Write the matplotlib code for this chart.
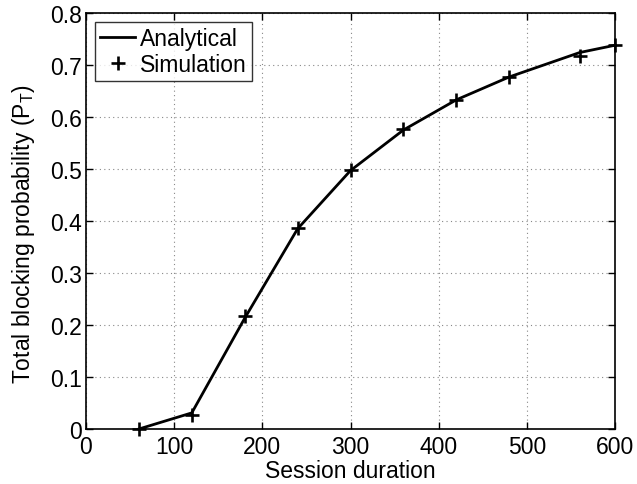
import numpy as np
import matplotlib
matplotlib.use("Agg")
import matplotlib.pyplot as plt

plt.rcParams['font.family'] = ['Liberation Sans', 'DejaVu Sans']
plt.rcParams['mathtext.fontset'] = 'custom'
plt.rcParams['mathtext.rm'] = 'Liberation Sans'
plt.rcParams['mathtext.it'] = 'Liberation Sans'

# session duration
x_ana = [60, 120, 180, 240, 300, 360, 420, 480, 560, 600]
y_ana = [0.0, 0.031, 0.213, 0.385, 0.497, 0.575, 0.633, 0.677, 0.724, 0.738]

x_sim = [60, 120, 180, 240, 300, 360, 420, 480, 560, 600]
y_sim = [0.0, 0.026, 0.217, 0.386, 0.499, 0.576, 0.633, 0.677, 0.717, 0.739]

xticks = [0, 100, 200, 300, 400, 500, 600]
yticks = [0, 0.1, 0.2, 0.3, 0.4, 0.5, 0.6, 0.7, 0.8]

fs = 16.5

fig = plt.figure(figsize=(6.37, 4.85), dpi=100)
ax = fig.add_axes([86/637, 55/485, 529/637, 416/485])

ax.plot(x_ana, y_ana, '-', color='black', lw=2, label='Analytical', clip_on=False, zorder=3)
ax.plot(x_sim, y_sim, '+', color='black', ms=9.5, mew=1.9, label='Simulation', clip_on=False, zorder=4)

ax.set_xlim(0, 600)
ax.set_ylim(0, 0.8)
ax.set_xticks(xticks)
ax.set_yticks(yticks)
ax.set_xticklabels([str(t) for t in xticks])
ax.set_yticklabels(['0' if t == 0 else ('%.1f' % t) for t in yticks])
ax.tick_params(direction='in', top=True, right=True, labelsize=fs, length=5, width=1)
ax.tick_params(axis='x', pad=4)
ax.tick_params(axis='y', pad=3)
ax.grid(True, linestyle=(0, (1, 3)), color='#888888', lw=0.8)
for s in ax.spines.values():
    s.set_linewidth(1.2)

ax.set_xlabel('Session duration', fontsize=fs)
ax.set_ylabel('Total blocking probability (P$_{\\rm T}$)', fontsize=fs)
ax.xaxis.set_label_coords(0.5, -0.072)
ax.yaxis.set_label_coords(-0.093, 0.47)

leg = ax.legend(loc='upper left', fontsize=fs, frameon=True, fancybox=False,
                edgecolor='black', borderpad=0.2, labelspacing=0.15,
                handlelength=1.55, handletextpad=0.22, borderaxespad=0.4)
leg.get_frame().set_linewidth(1)

fig.savefig('out.png', dpi=100)
